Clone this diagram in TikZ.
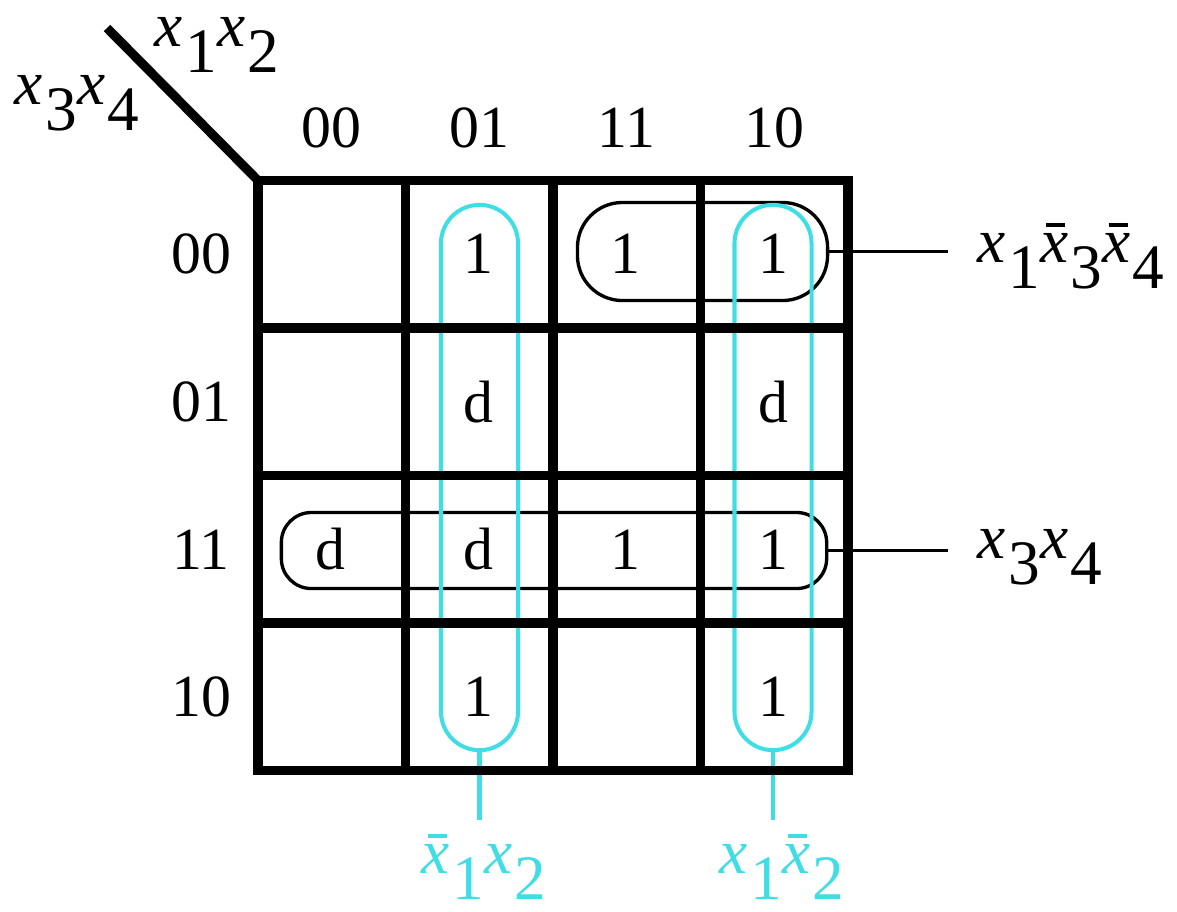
\documentclass[tikz,border=0pt]{standalone}
\usepackage{fontspec}
\setmainfont{Liberation Serif}
\usepackage{xcolor}
\usetikzlibrary{calc}
\definecolor{loopcyan}{RGB}{64, 222, 228}
\definecolor{gridblack}{RGB}{0, 0, 0}
% x_i va \bar{x}_i yozuvlari
\newcommand{\xv}[1]{\textit{x}\kern0.04em\raisebox{-0.42em}{#1}}
\newcommand{\xbv}[1]{\rlap{\kern0.1em\rule[0.55em]{0.3em}{0.06em}}\textit{x}\kern0.04em\raisebox{-0.42em}{#1}}
\tikzset{
  % Karnaugh jadvali chiziqlari
  kgrid/.style   = {line width=2.6pt, draw=gridblack, line cap=rect},
  % Guruhlar (konturlar)
  bloop/.style   = {draw=black, line width=0.95pt, rectangle, outer sep=0pt, inner sep=0pt},
  cloop/.style   = {draw=loopcyan, line width=1.15pt, rectangle, outer sep=0pt, inner sep=0pt,
                    minimum width=0.77cm, minimum height=5.45cm, rounded corners=0.385cm},
  % Bog'lovchi chiziqlar
  tline/.style   = {draw=black, line width=0.75pt},
  cline/.style   = {draw=loopcyan, line width=1.15pt},
  % Yozuvlar
  cellv/.style   = {font=\fontsize{17}{20}\selectfont, inner sep=0pt},
  lab/.style     = {font=\fontsize{18}{20}\selectfont, inner sep=0pt},
  clab/.style    = {lab, text=loopcyan},
}
\begin{document}
\begin{tikzpicture}[x=0.01cm, y=-0.01cm]
  \useasboundingbox (0,0) rectangle (1177,911);
  \pgfmathsetmacro{\ox}{258}
  \pgfmathsetmacro{\oy}{180.5}
  \pgfmathsetmacro{\w}{147.5}
  % guruhlar
  \node[bloop, minimum width=2.5cm, minimum height=0.98cm, rounded corners=0.45cm] (g1) at (702.5,251.5) {};
  \node[bloop, minimum width=5.45cm, minimum height=0.76cm, rounded corners=0.3cm] (g2) at (554,550.5) {};
  \node[cloop] (g3) at (479.5,477.5) {};
  \node[cloop] (g4) at (773,477.5) {};
  % bog'lovchilar
  \coordinate (e1) at (948,251.5);
  \coordinate (e2) at (948,550.5);
  \coordinate (f1) at (479.5,820);
  \coordinate (f2) at (773,820);
  \draw[tline] (g1.east) -- (e1);
  \draw[tline] (g2.east) -- (e2);
  \draw[cline] (g3.south) -- (f1);
  \draw[cline] (g4.south) -- (f2);
  % jadval
  \foreach \i in {0,...,4} {
    \draw[kgrid] (\ox+\i*\w,\oy) -- (\ox+\i*\w,\oy+4*\w);
    \draw[kgrid] (\ox,\oy+\i*\w) -- (\ox+4*\w,\oy+\i*\w);
  }
  \draw[kgrid, line cap=butt] (107,28) -- (\ox,\oy);
  % sarlavhalar
  \foreach \v [count=\i from 0] in {00,01,11,10} {
    \node[cellv] (h\i) at (\ox+\i*\w+\w/2,128) {\v};
    \node[cellv] (r\i) at (201,\oy+\i*\w+\w/2) {\v};
  }
  % katak qiymatlari
  \foreach \c/\r/\v in {1/0/1, 2/0/1, 3/0/1, 1/1/d, 3/1/d, 0/2/d, 1/2/d, 2/2/1, 3/2/1, 1/3/1, 3/3/1} {
    \node[cellv] (c\c\r) at (\ox+\c*\w+\w/2-1,\oy+\r*\w+\w/2) {\v};
  }
  % o'zgaruvchilar
  \node[lab, anchor=base] (v12) at (217,46) {\xv{1}\xv{2}};
  \node[lab, anchor=base] (v34) at (77,104) {\xv{3}\xv{4}};
  \node[lab, anchor=base west] (t1) at (977,262) {\xv{1}\xbv{3}\xbv{4}};
  \node[lab, anchor=base west] (t2) at (977,558) {\xv{3}\xv{4}};
  \node[clab, anchor=base] (b1) at (484,873) {\xbv{1}\xv{2}};
  \node[clab, anchor=base] (b2) at (782,873) {\xv{1}\xbv{2}};
\end{tikzpicture}
\end{document}
